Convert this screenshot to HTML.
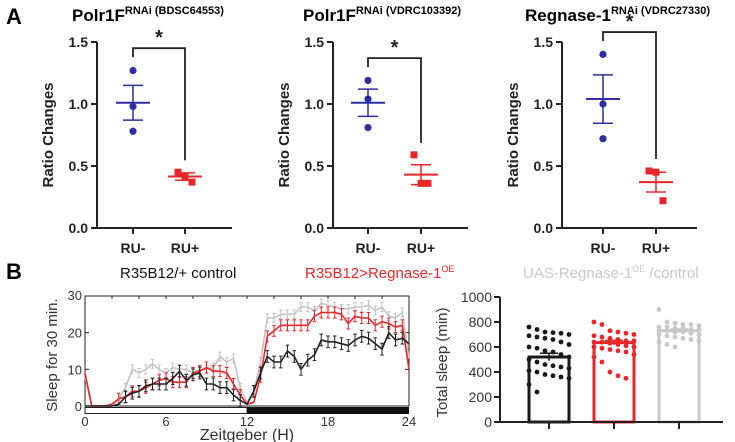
<!DOCTYPE html>
<html><head><meta charset="utf-8"><style>
html,body{margin:0;padding:0;background:#fff;width:735px;height:442px;overflow:hidden}
svg{display:block;font-family:"Liberation Sans",Arial,sans-serif}
</style></head><body>
<svg id="fig" width="735" height="442" viewBox="0 0 735 442">
<text x="6" y="24" font-size="22" font-weight="bold">A</text>
<text x="6" y="279" font-size="22" font-weight="bold">B</text>
<text x="72" y="21" font-size="17" font-weight="bold">Polr1F<tspan font-size="11" dy="-7">RNAi (BDSC64553)</tspan></text>
<text x="303" y="21" font-size="17" font-weight="bold">Polr1F<tspan font-size="11" dy="-7">RNAi (VDRC103392)</tspan></text>
<text x="525" y="21" font-size="17" font-weight="bold">Regnase-1<tspan font-size="11" dy="-7">RNAi (VDRC27330)</tspan></text>
<text x="120" y="278" font-size="15" fill="#111">R35B12/+ control</text>
<text x="305" y="278" font-size="15" fill="#e8262a">R35B12&gt;Regnase-1<tspan font-size="9" dy="-6">OE</tspan></text>
<text x="523" y="278" font-size="15" fill="#c8c8c8">UAS-Regnase-1<tspan font-size="9" dy="-6">OE</tspan><tspan dy="6"> /control</tspan></text>
<g id="pa"></g><g id="pb"></g><g id="pc"></g>
</svg>
<script>
// Panel A data
const aGroups=["RU-","RU+"];
const a1Minus=[1.27,0.98,0.78], a1Plus=[0.45,0.42,0.37];
const a1Mean=[1.01,0.415], a1Sem=[0.14,0.03];
const a2Minus=[1.19,1.04,0.81], a2Plus=[0.59,0.36,0.36];
const a2Mean=[1.01,0.43], a2Sem=[0.11,0.08];
const a3Minus=[1.40,1.00,0.72], a3Plus=[0.46,0.45,0.22];
const a3Mean=[1.04,0.37], a3Sem=[0.195,0.08];
const aTicks=[0,0.5,1.0,1.5];
const aBracket=[1.45,1.37,1.58];
// Panel B time series (Zeitgeber hours 0..24 every 0.5h)
const tsHours=[0,0.5,1,1.5,2,2.5,3,3.5,4,4.5,5,5.5,6,6.5,7,7.5,8,8.5,9,9.5,10,10.5,11,11.5,12,12.5,13,13.5,14,14.5,15,15.5,16,16.5,17,17.5,18,18.5,19,19.5,20,20.5,21,21.5,22,22.5,23,23.5,24];
const greySeries=[8,0,0,0,0,2,5,10,9,10,11.5,10,9,10.5,10,10,9,10,10,10.5,13.5,12,13,5,1,4,12,24,24,25,25,25,27,27,26,28,27.5,27,26.5,26.5,27,27,27.5,26,27,24.5,24,25.5,13];
const redSeries=[9,0,0,0,0.5,2,2.5,4,4,5,6,7,7.5,6.5,6.5,6.5,9,9.5,10.5,9.5,9.5,9,6,3,0.5,1,8,19,20.5,22,22,22,22,22,24.5,25.5,25.5,25.5,25,22.5,24.5,24,24,22,23,22.5,21.5,22,10];
const blackSeries=[0,0,0,0,0,0.5,2.5,3.5,4,5.5,6,6,6,7.5,9.5,7,8.5,9,6,6,5,5,3,1.5,0.5,4,9,13.5,12,12,15,13.5,10,12.5,14,18,17.5,17.5,17,16.5,18,19,18.5,17,15.5,20,18,18.5,17];
const tsSem=[1.2,1.5,1.6];
const tsXTicks=[0,6,12,18,24];
const tsYTicks=[0,10,20,30];
// Panel B bar chart
const barCats=["control","regnase-oe","uas-control"];
const barMeans=[520,635,730];
const barSems=[30,18,14];
const dotsBlack=[760,740,720,715,710,700,690,680,670,660,640,620,600,590,570,560,540,520,500,480,460,450,440,430,410,400,380,370,360,350,300,240];
const dotsRed=[800,780,730,720,710,700,690,680,670,660,650,650,640,640,630,620,610,600,600,590,580,570,560,540,520,480,400,370,350];
const dotsGrey=[900,800,790,780,780,770,760,760,750,750,740,740,730,730,720,720,710,700,700,690,680,670,660,650,640,620,600];
const barTicks=[0,200,400,600,800,1000];

const NS="http://www.w3.org/2000/svg";
function mk(parent,tag,attrs){const e=document.createElementNS(NS,tag);for(const k in attrs)e.setAttribute(k,attrs[k]);parent.appendChild(e);return e;}

function drawA(g,axX,xMinus,xPlus,minus,plus,mean,sem,bracket,idx){
  const y0=228,y15=42;
  const y=v=>y0-(y0-y15)*v/1.5;
  const xs=[xMinus,xPlus];
  const ax=mk(g,'path',{d:`M${axX} ${y15}V${y0}H${axX+135}`,stroke:'#222','stroke-width':2,fill:'none'});
  
  aTicks.forEach(t=>{
    mk(g,'line',{x1:axX-6,x2:axX,y1:y(t),y2:y(t),stroke:'#222','stroke-width':2});
    const tx=mk(g,'text',{x:axX-9,y:y(t)+5,'font-size':14,'font-weight':'bold','text-anchor':'end',fill:'#222'});
    tx.textContent=t.toFixed(1);
    
  });
  aGroups.forEach((c,i)=>{
    mk(g,'line',{x1:xs[i],x2:xs[i],y1:y0,y2:y0+6,stroke:'#222','stroke-width':2});
    const tx=mk(g,'text',{x:xs[i],y:y0+25,'font-size':14,'font-weight':'bold','text-anchor':'middle',fill:'#222'});
    tx.textContent=c;
  });
  const yl=mk(g,'text',{x:0,y:0,'font-size':15,'font-weight':'bold','text-anchor':'middle',fill:'#222',transform:`translate(${axX-44},${y(0.75)}) rotate(-90)`});
  yl.textContent='Ratio Changes';
  const cols=['#2b2fa0','#e8262a'];
  [minus,plus].forEach((arr,i)=>{
    const offs=[-1,0,1];
    arr.forEach((v,j)=>{
      const px=xs[i]+(i==0?0:offs[j]*7);
      let m;
      if(i==0)m=mk(g,'circle',{cx:px,cy:y(v),r:3.6,fill:cols[0]});
      else m=mk(g,'rect',{x:px-3.5,y:y(v)-3.5,width:7,height:7,fill:cols[1]});
      
    });
    const c=cols[i];
    mk(g,'line',{x1:xs[i]-17,x2:xs[i]+17,y1:y(mean[i]),y2:y(mean[i]),stroke:c,'stroke-width':2});
    mk(g,'line',{x1:xs[i],x2:xs[i],y1:y(mean[i]-sem[i]),y2:y(mean[i]+sem[i]),stroke:c,'stroke-width':1.5});
    [mean[i]-sem[i],mean[i]+sem[i]].forEach(v=>mk(g,'line',{x1:xs[i]-10,x2:xs[i]+10,y1:y(v),y2:y(v),stroke:c,'stroke-width':1.5}));
  });
  const by=y(bracket);
  const br=mk(g,'path',{d:`M${xMinus} ${by+9}V${by}H${xPlus}V${y(Math.max(...plus))-12}`,stroke:'#222','stroke-width':1.8,fill:'none'});
  
  const st=mk(g,'text',{x:(xMinus+xPlus)/2,y:by-4,'font-size':20,'font-weight':'bold','text-anchor':'middle',fill:'#222'});
  st.textContent='*';
}
const pa=document.getElementById('pa');
drawA(pa,97,133,185,a1Minus,a1Plus,a1Mean,a1Sem,aBracket[0],1);
drawA(pa,333,368,421,a2Minus,a2Plus,a2Mean,a2Sem,aBracket[1],2);
drawA(pa,562,603,656,a3Minus,a3Plus,a3Mean,a3Sem,aBracket[2],3);

// time series
(function(){
  const g=document.getElementById('pb');
  const L=85,R=409,T=296,B=406;
  const x=h=>L+(R-L)*h/24, y=v=>B-(B-T)*v/30;
  const fr=mk(g,'rect',{x:L,y:T,width:R-L,height:B-T,fill:'none',stroke:'#222','stroke-width':1});
  
  tsYTicks.forEach(t=>{
    mk(g,'line',{x1:L,x2:L+4,y1:y(t),y2:y(t),stroke:'#222'});
    mk(g,'line',{x1:R,x2:R-4,y1:y(t),y2:y(t),stroke:'#222'});
    const tx=mk(g,'text',{x:L-3,y:y(t)+(t==30?4:5),'font-size':13,'text-anchor':'end',fill:'#333'});
    tx.textContent=t;
  });
  for(let h=2;h<24;h+=2){mk(g,'line',{x1:x(h),x2:x(h),y1:T,y2:T+3,stroke:'#222'});}
  const lb=mk(g,'rect',{x:L,y:407.5,width:x(12)-L,height:6,fill:'#fff',stroke:'#222','stroke-width':1});
  
  const db=mk(g,'rect',{x:x(12),y:407,width:R-x(12),height:7,fill:'#111'});
  
  tsXTicks.forEach(t=>{
    const tx=mk(g,'text',{x:x(t),y:426,'font-size':13,'text-anchor':'middle',fill:'#333'});
    tx.textContent=t;
  });
  const xt=mk(g,'text',{x:x(12),y:440,'font-size':16,'text-anchor':'middle',fill:'#333'});
  xt.textContent='Zeitgeber (H)';
  const yt=mk(g,'text',{x:0,y:0,'font-size':15,'text-anchor':'middle',fill:'#333',transform:`translate(${L-28},${(T+B)/2+4}) rotate(-90)`});
  yt.textContent='Sleep for 30 min.';
  const series=[[greySeries,'#c4c4c4','grey-control-line'],[redSeries,'#e8262a','regnase-oe-line'],[blackSeries,'#222','control-line']];
  series.forEach(([d,c,n],si)=>{
    const pts=d.map((v,i)=>x(tsHours[i]).toFixed(1)+','+y(v).toFixed(1)).join(' ');
    const pl=mk(g,'polyline',{points:pts,fill:'none',stroke:c,'stroke-width':1.6});
    
    d.forEach((v,i)=>{
      if(v<1.5||i==0||i==d.length-1)return;
      const s=tsSem[si];
      mk(g,'line',{x1:x(tsHours[i]),x2:x(tsHours[i]),y1:y(v-s),y2:y(v+s),stroke:c,'stroke-width':1});
      mk(g,'line',{x1:x(tsHours[i])-1.8,x2:x(tsHours[i])+1.8,y1:y(v-s),y2:y(v-s),stroke:c,'stroke-width':1});
      mk(g,'line',{x1:x(tsHours[i])-1.8,x2:x(tsHours[i])+1.8,y1:y(v+s),y2:y(v+s),stroke:c,'stroke-width':1});
    });
  });
})();

// bar chart
(function(){
  const g=document.getElementById('pc');
  const L=500,Rr=723,T=297,B=422;
  const y=v=>B-(B-T)*v/1000;
  const cx=[549,614,679];
  const cols=['#1a1a1a','#e8262a','#c8c8c8'];
  const dots=[dotsBlack,dotsRed,dotsGrey];
  barCats.forEach((c,i)=>{
    const r=mk(g,'rect',{x:cx[i]-20,y:y(barMeans[i]),width:40,height:B-y(barMeans[i]),fill:'#fff',stroke:cols[i],'stroke-width':3});
    
    const d=dots[i];
    d.forEach((v,j)=>{
      const col=j%6, off=(col-2.5)*8;
      const p=mk(g,'circle',{cx:cx[i]+off,cy:y(v),r:2.4,fill:cols[i]});
      
    });
    mk(g,'line',{x1:cx[i],x2:cx[i],y1:y(barMeans[i]-barSems[i]),y2:y(barMeans[i]+barSems[i]),stroke:cols[i],'stroke-width':1.5});
    mk(g,'line',{x1:cx[i]-9,x2:cx[i]+9,y1:y(barMeans[i]+barSems[i]),y2:y(barMeans[i]+barSems[i]),stroke:cols[i],'stroke-width':1.5});
    mk(g,'line',{x1:cx[i],x2:cx[i],y1:B,y2:B+7,stroke:'#222','stroke-width':2});
  });
  const ax=mk(g,'path',{d:`M${L} ${T}V${B}H${Rr}`,stroke:'#222','stroke-width':2,fill:'none'});
  
  barTicks.forEach(t=>{
    mk(g,'line',{x1:L-6,x2:L,y1:y(t),y2:y(t),stroke:'#222','stroke-width':2});
    const tx=mk(g,'text',{x:L-8,y:y(t)+5,'font-size':14,'text-anchor':'end',fill:'#333'});
    tx.textContent=t;
  });
  const yt=mk(g,'text',{x:0,y:0,'font-size':15,'text-anchor':'middle',fill:'#333',transform:`translate(${L-53},${(T+B)/2+3}) rotate(-90)`});
  yt.textContent='Total sleep (min)';
})();
</script>
</body></html>
